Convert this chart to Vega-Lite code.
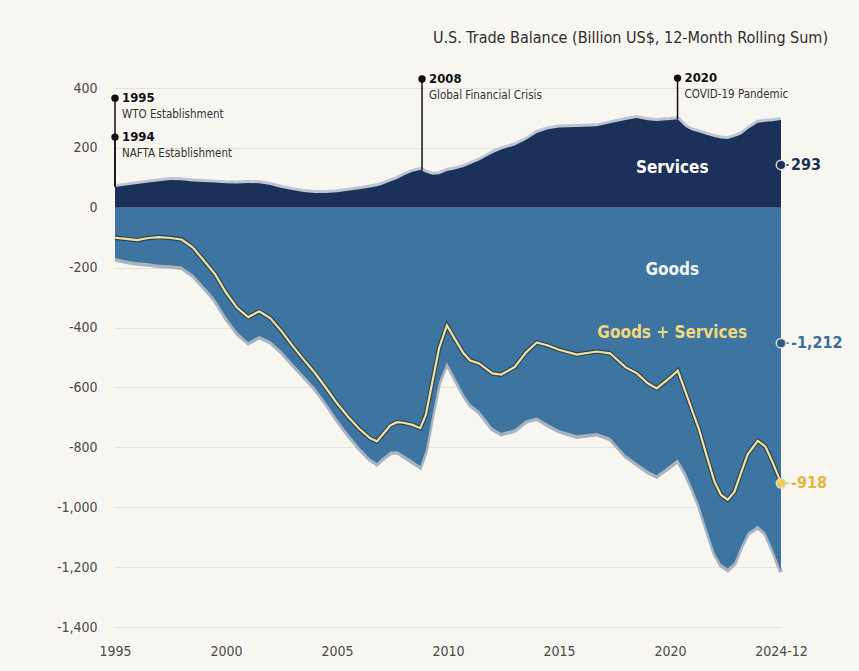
{
  "$schema": "https://vega.github.io/schema/vega-lite/v6.json",
  "width": 666,
  "height": 539,
  "autosize": {"type": "none"},
  "padding": {"left": 115, "top": 88, "right": 78, "bottom": 44},
  "background": "#f8f6f1",
  "config": {
    "view": {"stroke": null},
    "font": "DejaVu Sans Condensed, DejaVu Sans",
    "axis": {"domain": false, "ticks": false, "labelColor": "#4a4a4a", "labelFontSize": 14, "title": null}
  },
  "title": {
    "text": "U.S. Trade Balance (Billion US$, 12-Month Rolling Sum)",
    "anchor": "end",
    "frame": "group",
    "dx": 47,
    "offset": 26,
    "fontSize": 16,
    "fontWeight": "normal",
    "color": "#2e2e2e"
  },
  "datasets": {
    "series": [
      {"t": 1995.0, "S": 69, "G": -168, "T": -100},
      {"t": 1995.5, "S": 74, "G": -176, "T": -104},
      {"t": 1996.0, "S": 79, "G": -182, "T": -108},
      {"t": 1996.5, "S": 84, "G": -185, "T": -101},
      {"t": 1997.0, "S": 89, "G": -190, "T": -98},
      {"t": 1997.5, "S": 93, "G": -192, "T": -101},
      {"t": 1998.0, "S": 92, "G": -196, "T": -106},
      {"t": 1998.5, "S": 88, "G": -222, "T": -132},
      {"t": 1999.0, "S": 86, "G": -262, "T": -176},
      {"t": 1999.5, "S": 84, "G": -305, "T": -221},
      {"t": 2000.0, "S": 82, "G": -365, "T": -283},
      {"t": 2000.5, "S": 81, "G": -415, "T": -334},
      {"t": 2001.0, "S": 83, "G": -448, "T": -365},
      {"t": 2001.5, "S": 82, "G": -428, "T": -346},
      {"t": 2002.0, "S": 76, "G": -445, "T": -369},
      {"t": 2002.5, "S": 66, "G": -478, "T": -412},
      {"t": 2003.0, "S": 59, "G": -520, "T": -461},
      {"t": 2003.5, "S": 53, "G": -560, "T": -507},
      {"t": 2004.0, "S": 49, "G": -600, "T": -551},
      {"t": 2004.5, "S": 49, "G": -650, "T": -601},
      {"t": 2005.0, "S": 52, "G": -705, "T": -653},
      {"t": 2005.5, "S": 57, "G": -755, "T": -698},
      {"t": 2006.0, "S": 62, "G": -800, "T": -738},
      {"t": 2006.5, "S": 68, "G": -838, "T": -770},
      {"t": 2006.8, "S": 72, "G": -852, "T": -780},
      {"t": 2007.0, "S": 76, "G": -838, "T": -762},
      {"t": 2007.4, "S": 88, "G": -815, "T": -727},
      {"t": 2007.7, "S": 96, "G": -812, "T": -716},
      {"t": 2008.0, "S": 108, "G": -826, "T": -718},
      {"t": 2008.4, "S": 120, "G": -845, "T": -725},
      {"t": 2008.75, "S": 126, "G": -862, "T": -736},
      {"t": 2009.0, "S": 118, "G": -810, "T": -692},
      {"t": 2009.3, "S": 110, "G": -690, "T": -580},
      {"t": 2009.6, "S": 112, "G": -580, "T": -468},
      {"t": 2009.95, "S": 123, "G": -516, "T": -393},
      {"t": 2010.3, "S": 128, "G": -565, "T": -437},
      {"t": 2010.7, "S": 136, "G": -622, "T": -486},
      {"t": 2011.0, "S": 145, "G": -655, "T": -510},
      {"t": 2011.4, "S": 158, "G": -678, "T": -520},
      {"t": 2012.0, "S": 182, "G": -735, "T": -553},
      {"t": 2012.4, "S": 195, "G": -752, "T": -557},
      {"t": 2013.0, "S": 208, "G": -740, "T": -532},
      {"t": 2013.5, "S": 226, "G": -710, "T": -484},
      {"t": 2014.0, "S": 250, "G": -700, "T": -450},
      {"t": 2014.5, "S": 262, "G": -722, "T": -460},
      {"t": 2015.0, "S": 268, "G": -742, "T": -474},
      {"t": 2015.8, "S": 270, "G": -760, "T": -490},
      {"t": 2016.7, "S": 272, "G": -752, "T": -480},
      {"t": 2017.3, "S": 282, "G": -768, "T": -486},
      {"t": 2018.0, "S": 293, "G": -826, "T": -533},
      {"t": 2018.5, "S": 300, "G": -852, "T": -552},
      {"t": 2019.0, "S": 292, "G": -878, "T": -586},
      {"t": 2019.4, "S": 290, "G": -893, "T": -603},
      {"t": 2020.0, "S": 293, "G": -860, "T": -567},
      {"t": 2020.35, "S": 296, "G": -840, "T": -544},
      {"t": 2020.7, "S": 270, "G": -885, "T": -615},
      {"t": 2021.0, "S": 258, "G": -935, "T": -677},
      {"t": 2021.3, "S": 252, "G": -990, "T": -738},
      {"t": 2021.6, "S": 245, "G": -1060, "T": -815},
      {"t": 2022.0, "S": 236, "G": -1150, "T": -914},
      {"t": 2022.3, "S": 231, "G": -1190, "T": -959},
      {"t": 2022.6, "S": 230, "G": -1205, "T": -975},
      {"t": 2022.9, "S": 236, "G": -1185, "T": -949},
      {"t": 2023.2, "S": 245, "G": -1130, "T": -885},
      {"t": 2023.5, "S": 262, "G": -1085, "T": -823},
      {"t": 2023.95, "S": 284, "G": -1062, "T": -778},
      {"t": 2024.3, "S": 287, "G": -1085, "T": -798},
      {"t": 2024.6, "S": 289, "G": -1135, "T": -846},
      {"t": 2025.0, "S": 293, "G": -1212, "T": -918}
    ],
    "events": [
      {"t": 1995.0, "year": "1995", "name": "WTO Establishment", "dot": 366, "base": 69},
      {"t": 1995.0, "year": "1994", "name": "NAFTA Establishment", "dot": 236, "base": 69},
      {"t": 2008.83, "year": "2008", "name": "Global Financial Crisis", "dot": 430, "base": 124},
      {"t": 2020.34, "year": "2020", "name": "COVID-19 Pandemic", "dot": 433, "base": 296}
    ],
    "ends": [
      {"t": 2025, "pos": 143, "label": "293", "series": "Services"},
      {"t": 2025, "pos": -452, "label": "-1,212", "series": "Goods"},
      {"t": 2025, "pos": -920, "label": "-918", "series": "Goods + Services"}
    ],
    "inner": [
      {"t": 2020.1, "pos": 133, "label": "Services", "series": "Services"},
      {"t": 2020.1, "pos": -208, "label": "Goods", "series": "Goods"},
      {"t": 2020.1, "pos": -418, "label": "Goods + Services", "series": "Goods + Services"}
    ]
  },
  "layer": [
    {
      "data": {"name": "series"},
      "mark": {"type": "line", "color": "#bcc6d2", "strokeWidth": 4, "yOffset": -1},
      "encoding": {
        "x": {"field": "t", "type": "quantitative", "scale": {"domain": [1995, 2025], "nice": false, "zero": false},
              "axis": {"values": [1995, 2000, 2005, 2010, 2015, 2020, 2025], "grid": false, "labelPadding": 17, "labelFlush": false,
                       "labelExpr": "datum.value == 2025 ? '2024-12' : '' + datum.value"}},
        "y": {"field": "S", "type": "quantitative", "scale": {"domain": [-1400, 400], "nice": false},
              "axis": {"values": [-1400, -1200, -1000, -800, -600, -400, -200, 0, 200, 400], "grid": true,
                       "gridColor": "#e6e3dc", "gridWidth": 1, "labelPadding": 18,
                       "labelExpr": "replace(format(datum.value, ','), '\u2212', '-')"}}
      }
    },
    {
      "data": {"name": "series"},
      "mark": {"type": "area", "color": "#1c3159"},
      "encoding": {
        "x": {"field": "t", "type": "quantitative"},
        "y": {"field": "S", "type": "quantitative"},
        "y2": {"datum": 0}
      }
    },
    {
      "data": {"name": "series"},
      "mark": {"type": "line", "color": "#a9b3bf", "strokeWidth": 4, "yOffset": 1.5},
      "encoding": {
        "x": {"field": "t", "type": "quantitative"},
        "y": {"field": "G", "type": "quantitative"}
      }
    },
    {
      "data": {"name": "series"},
      "mark": {"type": "area", "color": "#3d75a0"},
      "encoding": {
        "x": {"field": "t", "type": "quantitative"},
        "y": {"field": "G", "type": "quantitative"},
        "y2": {"datum": 0}
      }
    },
    {
      "mark": {"type": "rule", "color": "#a9c6dd", "strokeWidth": 1.5},
      "encoding": {
        "x": {"datum": 1995},
        "x2": {"datum": 2025},
        "y": {"datum": 0}
      }
    },
    {
      "data": {"name": "series"},
      "mark": {"type": "line", "color": "#2a3a48", "strokeWidth": 4.5, "opacity": 0.85},
      "encoding": {
        "x": {"field": "t", "type": "quantitative"},
        "y": {"field": "T", "type": "quantitative"}
      }
    },
    {
      "data": {"name": "series"},
      "mark": {"type": "line", "color": "#f0e29c", "strokeWidth": 2.2},
      "encoding": {
        "x": {"field": "t", "type": "quantitative"},
        "y": {"field": "T", "type": "quantitative"}
      }
    },
    {
      "data": {"name": "events"},
      "mark": {"type": "rule", "color": "#111111", "strokeWidth": 1.5},
      "encoding": {
        "x": {"field": "t", "type": "quantitative"},
        "y": {"field": "base", "type": "quantitative"},
        "y2": {"field": "dot"}
      }
    },
    {
      "data": {"name": "events"},
      "mark": {"type": "circle", "color": "#111111", "opacity": 1, "size": 55},
      "encoding": {
        "x": {"field": "t", "type": "quantitative"},
        "y": {"field": "dot", "type": "quantitative"}
      }
    },
    {
      "data": {"name": "events"},
      "mark": {"type": "text", "align": "left", "baseline": "middle", "dx": 7, "fontSize": 13, "fontWeight": "bold", "color": "#111111"},
      "encoding": {
        "x": {"field": "t", "type": "quantitative"},
        "y": {"field": "dot", "type": "quantitative"},
        "text": {"field": "year"}
      }
    },
    {
      "data": {"name": "events"},
      "mark": {"type": "text", "align": "left", "baseline": "middle", "dx": 7, "dy": 17, "fontSize": 11.5, "color": "#333333"},
      "encoding": {
        "x": {"field": "t", "type": "quantitative"},
        "y": {"field": "dot", "type": "quantitative"},
        "text": {"field": "name"}
      }
    },
    {
      "data": {"name": "ends"},
      "mark": {"type": "rule", "strokeWidth": 1.5},
      "encoding": {
        "x": {"field": "t", "type": "quantitative"},
        "x2": {"datum": 2025.35},
        "y": {"field": "pos", "type": "quantitative"},
        "color": {"field": "series", "type": "nominal", "legend": null,
                  "scale": {"domain": ["Services", "Goods", "Goods + Services"], "range": ["#1c3159", "#3d6f99", "#e6bf48"]}}
      }
    },
    {
      "data": {"name": "ends"},
      "mark": {"type": "circle", "size": 90, "opacity": 1, "stroke": "#d3dae2", "strokeWidth": 1.5},
      "encoding": {
        "x": {"field": "t", "type": "quantitative"},
        "y": {"field": "pos", "type": "quantitative"},
        "color": {"field": "series", "type": "nominal", "legend": null,
                  "scale": {"domain": ["Services", "Goods", "Goods + Services"], "range": ["#1c3159", "#2f5a82", "#f0cc55"]}}
      }
    },
    {
      "data": {"name": "ends"},
      "mark": {"type": "text", "align": "left", "baseline": "middle", "dx": 10, "fontSize": 16, "fontWeight": "bold"},
      "encoding": {
        "x": {"field": "t", "type": "quantitative"},
        "y": {"field": "pos", "type": "quantitative"},
        "text": {"field": "label"},
        "color": {"field": "series", "type": "nominal", "legend": null,
                  "scale": {"domain": ["Services", "Goods", "Goods + Services"], "range": ["#1c3159", "#3d6f99", "#e2b53c"]}}
      }
    },
    {
      "data": {"name": "inner"},
      "mark": {"type": "text", "align": "center", "baseline": "middle", "fontSize": 16, "fontWeight": "bold"},
      "encoding": {
        "x": {"field": "t", "type": "quantitative"},
        "y": {"field": "pos", "type": "quantitative"},
        "text": {"field": "label"},
        "size": {"field": "series", "type": "nominal", "legend": null,
                 "scale": {"domain": ["Services", "Goods", "Goods + Services"], "range": [17, 17, 14.5]}},
        "color": {"field": "series", "type": "nominal", "legend": null,
                  "scale": {"domain": ["Services", "Goods", "Goods + Services"], "range": ["#ffffff", "#f2f4f6", "#efd97c"]}}
      }
    }
  ],
  "resolve": {"scale": {"color": "independent", "size": "independent"}}
}
